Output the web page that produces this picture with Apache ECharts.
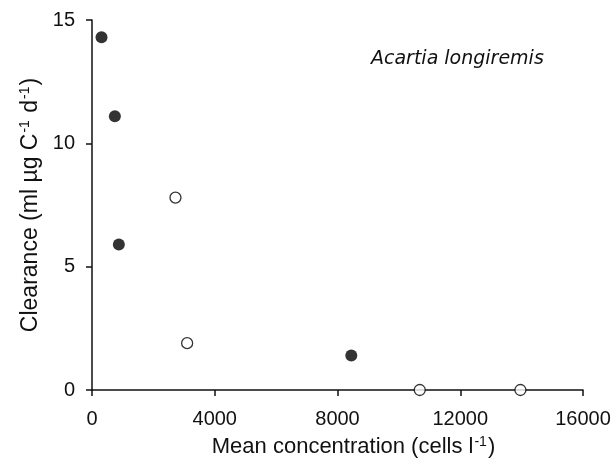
<!DOCTYPE html>
<html>
<head>
<meta charset="utf-8">
<script src="https://cdn.jsdelivr.net/npm/echarts@6/dist/echarts.min.js"></script>
<style>
  html, body { margin: 0; padding: 0; background: #fff; }
  #chart { width: 614px; height: 463px; }
</style>
</head>
<body>
<div id="chart"></div>
<script>
// Clearance of Acartia longiremis vs mean prey concentration
const filledConc = [310, 745, 875, 8450];
const filledClearance = [14.3, 11.1, 5.9, 1.4];
const openConc = [2720, 3100, 10680, 13960];
const openClearance = [7.8, 1.9, 0, 0];
const xTicks = [0, 4000, 8000, 12000, 16000];
const yTicks = [0, 5, 10, 15];

const zip = (xs, ys) => xs.map((x, i) => [x, ys[i]]);
const font = '"Liberation Sans", Arial, sans-serif';
const ink = '#111';

function titleRich(size, supSize) {
  return {
    n: { fontFamily: font, fontSize: size, color: ink },
    s: { fontFamily: font, fontSize: supSize, color: ink, verticalAlign: 'top', padding: [0, 1, Math.round(size * 0.45), 1] }
  };
}

const chart = echarts.init(document.getElementById('chart'), null, { renderer: 'canvas' });
chart.setOption({
  animation: false,
  backgroundColor: '#fff',
  grid: { left: 92, right: 31, top: 20, bottom: 72, containLabel: false },
  xAxis: {
    type: 'value',
    min: xTicks[0], max: xTicks[xTicks.length - 1], interval: xTicks[1] - xTicks[0],
    name: '{n|Mean concentration (cells l}{s|-1}{n|)}',
    nameLocation: 'middle', nameGap: 45,
    nameTextStyle: { rich: titleRich(22, 14), padding: [0, 0, 0, 32] },
    axisLine: { lineStyle: { color: ink, width: 1.5 } },
    axisTick: { inside: false, length: 6, lineStyle: { color: ink, width: 1.5 } },
    axisLabel: { margin: 19, fontFamily: font, fontSize: 20, color: ink, formatter: v => String(v) },
    splitLine: { show: false }
  },
  yAxis: {
    type: 'value',
    min: yTicks[0], max: yTicks[yTicks.length - 1], interval: yTicks[1] - yTicks[0],
    name: '{n|Clearance (ml µg C}{s|-1}{n| d}{s|-1}{n|)}',
    nameLocation: 'middle', nameGap: 42, nameRotate: 90,
    nameTextStyle: { rich: titleRich(23, 14) },
    axisLine: { show: true, lineStyle: { color: ink, width: 1.5 } },
    axisTick: { show: true, inside: false, length: 6, lineStyle: { color: ink, width: 1.5 } },
    axisLabel: { margin: 17, fontFamily: font, fontSize: 20, color: ink },
    splitLine: { show: false }
  },
  graphic: [{
    type: 'text', left: 371, top: 50,
    style: { text: 'Acartia longiremis', fontFamily: '"DejaVu Sans", sans-serif', fontStyle: 'italic', fontSize: 19, fill: ink }
  }],
  series: [
    {
      type: 'scatter', data: zip(filledConc, filledClearance),
      symbol: 'circle', symbolSize: 12, z: 5,
      itemStyle: { color: '#000' }
    },
    {
      type: 'scatter', data: zip(openConc, openClearance),
      symbol: 'circle', symbolSize: 11, z: 5,
      itemStyle: { color: '#fff', borderColor: '#000', borderWidth: 1.3 }
    }
  ]
});
</script>
</body>
</html>
